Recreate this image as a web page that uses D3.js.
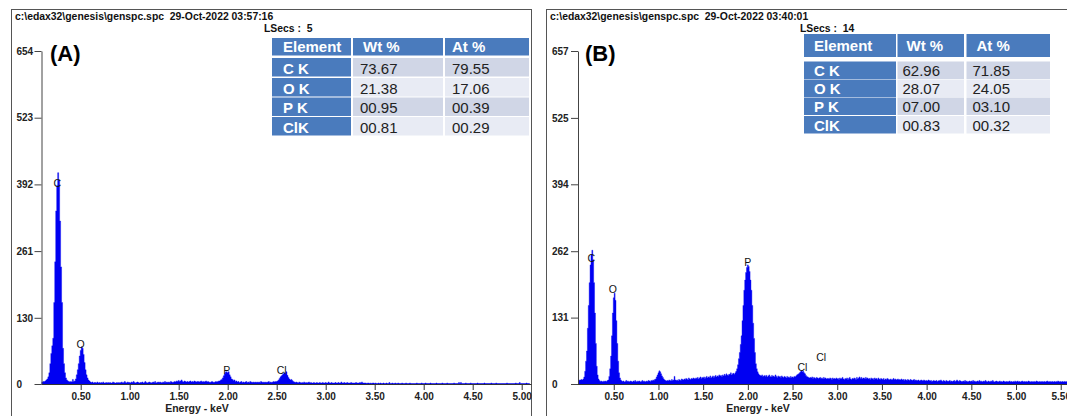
<!DOCTYPE html>
<html><head><meta charset="utf-8">
<script src="https://cdn.jsdelivr.net/npm/d3@7"></script>
<style>
html,body{margin:0;padding:0;background:#fff;}
svg{display:block;font-family:"Liberation Sans",Arial,sans-serif;}
</style></head>
<body>
<svg id="chart" width="1067" height="416"></svg>
<script>
// ---------------- DATA ----------------
const energyStart = 0.10;   // keV of first channel
const energyStep = 0.01;    // keV per channel

// Panel A spectrum counts, channels from 0.10 keV, 0.01 keV each (10 per row)
const countsA = [
  4,4,5,5,6,8,10,14,22,40,
  60,75,90,160,240,340,390,415,400,320,
  230,160,70,40,22,12,8,6,5,4,
  5,4,9,5,6,10,18,28,40,55,
  66,73,70,58,42,28,18,12,8,6,
  4,3,4,2,3,3,2,4,2,3,
  2,3,2,4,2,2,3,2,3,2,
  3,2,2,4,3,2,2,3,2,3,
  2,3,4,2,3,5,3,2,4,3,
  3,2,4,3,5,3,2,3,4,3,
  2,3,3,4,2,3,5,3,2,3,
  4,3,2,3,4,3,5,2,3,4,
  3,4,3,2,4,3,5,3,4,3,
  4,3,5,4,3,4,5,4,6,5,
  7,5,6,8,5,4,6,5,4,5,
  4,5,6,4,5,4,6,5,4,5,
  5,4,5,6,4,5,4,5,6,4,
  5,4,3,4,5,4,3,4,5,4,
  5,6,6,8,9,12,16,20,23,24,
  22,24,18,14,10,9,7,8,5,6,
  4,5,3,4,5,3,4,3,4,5,
  3,4,3,5,4,3,4,3,4,3,
  4,3,4,3,5,4,3,4,3,4,
  3,4,5,3,4,3,4,5,4,5,
  5,6,8,11,14,16,18,20,22,20,
  24,17,13,10,8,9,7,5,4,3,
  4,3,2,4,3,2,3,2,4,2,
  3,2,3,4,2,3,2,2,3,2,
  2,3,2,2,3,2,2,3,2,2,
  3,2,2,4,2,2,3,2,2,2,
  3,2,2,3,2,2,4,2,2,3,
  2,2,3,2,2,2,3,2,2,2,
  2,3,2,2,2,3,2,4,2,2,
  2,2,1,2,2,1,2,1,2,2,
  1,2,1,1,2,1,2,1,1,2,
  1,1,2,1,1,3,1,1,2,1,
  1,2,1,1,2,1,1,1,2,1,
  1,1,2,1,1,1,2,1,1,1,
  1,1,1,2,1,1,1,1,2,1,
  1,1,2,1,1,1,1,2,1,1,
  1,1,1,2,1,1,1,1,1,2,
  1,1,1,1,2,1,1,1,1,1,
  1,2,1,1,1,1,3,1,3,1,
  1,1,1,2,1,1,1,1,2,1,
  1,1,1,1,1,2,1,1,1,1,
  1,1,2,1,1,1,1,1,1,2,
  1,1,1,1,2,1,1,1,1,1,
  1,1,1,1,1,2,1,1,1,1,
  1,1,1,1,2,1,1,1,3,1,
  1,1,1,1,1,2,1,1,1
];

// Panel B spectrum counts, channels from 0.10 keV, 0.01 keV each
const countsB = [
  6,7,8,8,9,8,10,14,25,45,
  65,110,155,200,235,255,264,245,200,140,
  80,35,18,10,7,5,6,5,4,6,
  5,6,5,7,8,15,30,55,95,140,
  170,179,165,125,80,45,22,12,8,6,
  5,6,4,5,7,5,6,4,5,6,
  5,4,6,5,7,5,4,6,5,6,
  4,5,7,5,6,4,5,6,5,7,
  6,5,7,6,8,7,9,10,14,18,
  22,26,24,20,16,13,10,8,7,6,
  7,6,8,7,6,9,7,8,15,8,
  7,8,6,9,8,7,10,9,8,10,
  9,11,10,8,12,10,9,11,10,12,
  11,10,12,11,13,10,12,14,11,13,
  12,14,11,13,15,12,14,13,16,12,
  14,16,13,15,17,14,16,15,18,16,
  17,15,18,16,19,17,20,18,17,19,
  19,22,18,20,21,19,22,25,30,38,
  50,62,78,95,125,155,185,205,220,230,
  235,232,222,205,185,155,120,90,62,40,
  30,24,20,18,17,16,18,15,16,17,
  15,17,14,16,18,15,14,17,15,16,
  14,18,15,13,16,14,15,13,16,14,
  13,15,14,12,15,13,14,12,15,13,
  14,13,15,14,16,18,19,20,22,24,
  26,24,25,22,20,17,15,14,13,12,
  13,12,14,11,13,12,11,13,12,11,
  12,13,11,12,10,13,11,12,10,11,
  11,10,12,11,9,12,10,11,10,12,
  10,11,9,12,10,11,13,10,9,11,
  10,12,9,11,13,10,9,11,10,12,
  11,9,13,10,12,14,11,13,10,12,
  12,10,13,11,12,10,11,9,12,10,
  11,9,12,10,11,9,12,10,9,11,
  10,9,11,8,10,9,11,10,8,9,
  10,8,9,11,9,10,8,9,10,8,
  9,8,10,8,9,7,9,8,7,9,
  8,7,9,8,7,8,9,7,8,7,
  7,8,6,7,8,7,6,8,7,6,
  7,6,8,7,6,7,5,6,7,6,
  6,7,5,6,7,6,8,6,5,7,
  6,5,7,6,5,6,7,5,6,5,
  6,7,5,6,8,6,5,7,6,5,
  5,6,5,7,5,6,4,5,6,5,
  6,5,7,5,6,4,5,6,5,7,
  5,6,4,5,6,5,7,5,4,6,
  5,4,6,5,7,5,4,5,6,5,
  4,5,6,4,5,4,6,5,4,5,
  5,4,5,6,4,5,4,5,4,6,
  4,5,6,4,5,4,5,6,4,5,
  5,4,5,4,6,5,4,5,4,5,
  4,5,4,6,5,4,5,4,5,4,
  5,4,5,4,5,6,4,5,4,5,
  4,5,4,5,4,5,4,6,5,4,
  5,4,5,4,5,4,5,4,5,4,
  4,5,4,5,4,5,4,5,4,5
];

const yTicksA = [0, 130, 261, 392, 523, 654];
const yTicksB = [0, 131, 262, 394, 525, 657];
const xTicksA = [0.5, 1.0, 1.5, 2.0, 2.5, 3.0, 3.5, 4.0, 4.5, 5.0];
const xTicksB = [0.5, 1.0, 1.5, 2.0, 2.5, 3.0, 3.5, 4.0, 4.5, 5.0, 5.5];

const peakNamesA = ["C", "O", "P", "Cl"];
const peakEnergyA = [0.26, 0.50, 1.99, 2.55];
const peakCountA = [387, 70, 20, 20];
const peakNamesB = ["C", "O", "P", "Cl", "Cl"];
const peakEnergyB = [0.25, 0.49, 2.00, 2.61, 2.82];
const peakCountB = [241, 180, 233, 26, 46];

const tableElements = ["C K", "O K", "P K", "ClK"];
const tableHeader = ["Element", "Wt %", "At %"];
const wtA = ["73.67", "21.38", "00.95", "00.81"];
const atA = ["79.55", "17.06", "00.39", "00.29"];
const wtB = ["62.96", "28.07", "07.00", "00.83"];
const atB = ["71.85", "24.05", "03.10", "00.32"];

const headerA = "c:\\edax32\\genesis\\genspc.spc  29-Oct-2022 03:57:16";
const headerB = "c:\\edax32\\genesis\\genspc.spc  29-Oct-2022 03:40:01";
const lsecsA = "LSecs :  5";
const lsecsB = "LSecs :  14";

// ---------------- DRAW ----------------
const svg = d3.select("#chart");
const BLUE = "#0000f2";
const TBL_BLUE = "#4a7bbd";
const ROW_DARK = "#d0d6e6";
const ROW_LIGHT = "#e8ebf4";

function panel(o) {
  const g = svg.append("g");
  // frame
  g.append("rect").attr("x", o.frame[0]).attr("y", o.frame[1])
    .attr("width", o.frame[2]).attr("height", o.frame[3])
    .attr("fill", "none").attr("stroke", "#555").attr("stroke-width", 1);

  // header
  g.append("text").attr("x", o.headerX).attr("y", 20)
    .attr("font-size", 10.4).attr("font-weight", "bold").attr("fill", "#111")
    .style("white-space", "pre")
    .text(o.header);
  g.append("text").attr("x", o.lsecsX).attr("y", 32)
    .attr("font-size", 10.4).attr("font-weight", "bold").attr("fill", "#111")
    .style("white-space", "pre")
    .text(o.lsecs);

  const x = d3.scaleLinear().domain(o.xDomain).range(o.xRange);
  const y = d3.scaleLinear().domain([0, o.yMax]).range([384, 51]);

  const clipId = "clip" + o.id;
  svg.append("clipPath").attr("id", clipId).append("rect")
    .attr("x", o.xRange[0]).attr("y", 40)
    .attr("width", o.clipRight - o.xRange[0]).attr("height", 345);

  const area = d3.area()
    .x((d, i) => x(energyStart + i * energyStep))
    .y0(y(0)).y1(d => y(d))
    .curve(d3.curveStep);
  g.append("path").datum(o.counts).attr("clip-path", `url(#${clipId})`)
    .attr("d", area).attr("fill", BLUE).attr("stroke", BLUE).attr("stroke-width", 0.4);

  // y axis
  const ya = g.append("g").attr("transform", `translate(${o.xRange[0]},0)`)
    .call(d3.axisLeft(y).tickValues(o.yTicks).tickFormat(d3.format("d"))
      .tickSize(7).tickSizeOuter(0));
  ya.select(".domain").attr("stroke", "#444");
  ya.selectAll(".tick line").attr("stroke", "#444");
  ya.selectAll(".tick text").attr("text-anchor", "start").attr("x", o.yLabelDx)
    .attr("font-size", 10).attr("font-weight", "bold").attr("fill", "#222")
    .attr("font-family", "Liberation Sans, Arial, sans-serif");

  // x axis
  const xa = g.append("g").attr("transform", "translate(0,384)")
    .call(d3.axisBottom(x).tickValues(o.xTicks).tickFormat(d3.format(".2f"))
      .tickSize(6).tickSizeOuter(0).tickPadding(3));
  xa.select(".domain").attr("stroke", "#333").attr("d", `M${o.xRange[0]},0.5H${o.clipRight}`);
  xa.selectAll(".tick line").attr("stroke", "#333");
  xa.selectAll(".tick text").attr("font-size", 10).attr("font-weight", "bold")
    .attr("fill", "#222").attr("font-family", "Liberation Sans, Arial, sans-serif");

  g.append("text").attr("x", o.energyX).attr("y", 412).attr("text-anchor", "middle")
    .attr("font-size", 10.5).attr("font-weight", "bold").attr("fill", "#222")
    .text("Energy - keV");

  // peak labels
  o.peakNames.forEach((n, i) => {
    g.append("text").attr("x", x(o.peakEnergy[i])).attr("y", y(o.peakCount[i]))
      .attr("text-anchor", "middle").attr("font-size", 10.5).attr("fill", "#111")
      .text(n);
  });

  // panel letter
  g.append("text").attr("x", o.letterX).attr("y", 61)
    .attr("font-size", 22).attr("font-weight", "bold").attr("fill", "#000")
    .text(o.letter);

  // table
  const t = o.table;
  const cols = t.cols;
  cols.forEach((c, j) => {
    g.append("rect").attr("x", c[0]).attr("y", t.headTop)
      .attr("width", c[1] - c[0]).attr("height", t.headH).attr("fill", TBL_BLUE);
    g.append("text").attr("x", c[0] + t.headTextDx[j]).attr("y", t.headBase)
      .attr("font-size", 15).attr("font-weight", "bold").attr("fill", "#fff")
      .text(tableHeader[j]);
  });
  tableElements.forEach((el, r) => {
    const top = t.rowTops[r];
    const vals = [el, o.wt[r], o.at[r]];
    cols.forEach((c, j) => {
      g.append("rect").attr("x", c[0]).attr("y", top)
        .attr("width", c[1] - c[0]).attr("height", t.rowH)
        .attr("fill", j === 0 ? TBL_BLUE : (r % 2 === 0 ? ROW_DARK : ROW_LIGHT));
      g.append("text").attr("x", c[0] + t.cellTextDx[j]).attr("y", top + t.rowBaseDy)
        .attr("font-size", 15).attr("font-weight", j === 0 ? "bold" : "normal")
        .attr("fill", j === 0 ? "#fff" : "#222")
        .text(vals[j]);
    });
  });
}

panel({
  id: "A", frame: [11.5, 9.5, 520, 420], header: headerA, headerX: 15,
  lsecs: lsecsA, lsecsX: 264,
  xDomain: [0.1, 5.1], xRange: [41.5, 531.5], clipRight: 531.5,
  yMax: 654, yTicks: yTicksA, yLabelDx: -25, xTicks: xTicksA,
  counts: countsA, energyX: 197,
  peakNames: peakNamesA, peakEnergy: peakEnergyA, peakCount: peakCountA,
  letter: "(A)", letterX: 50,
  wt: wtA, at: atA,
  table: {
    cols: [[272, 351], [353, 443], [445, 529]],
    headTop: 38, headH: 17.5, headBase: 52, headTextDx: [11, 10, 7],
    rowTops: [58, 78, 97.5, 117], rowH: 18.5, rowBaseDy: 15.5, cellTextDx: [11, 7, 7]
  }
});

panel({
  id: "B", frame: [546.5, 9.5, 560, 420], header: headerB, headerX: 550,
  lsecs: lsecsB, lsecsX: 800,
  xDomain: [0.1, 5.7], xRange: [578, 1078.6], clipRight: 1067,
  yMax: 657, yTicks: yTicksB, yLabelDx: -26, xTicks: xTicksB,
  counts: countsB, energyX: 758,
  peakNames: peakNamesB, peakEnergy: peakEnergyB, peakCount: peakCountB,
  letter: "(B)", letterX: 585,
  wt: wtB, at: atB,
  table: {
    cols: [[804, 896], [897.5, 964], [966.5, 1050]],
    headTop: 34, headH: 23, headBase: 50.5, headTextDx: [10, 9, 10],
    rowTops: [61.5, 79.5, 97.5, 116], rowH: 17.5, rowBaseDy: 14.5, cellTextDx: [10, 5, 6]
  }
});
</script>
</body></html>
